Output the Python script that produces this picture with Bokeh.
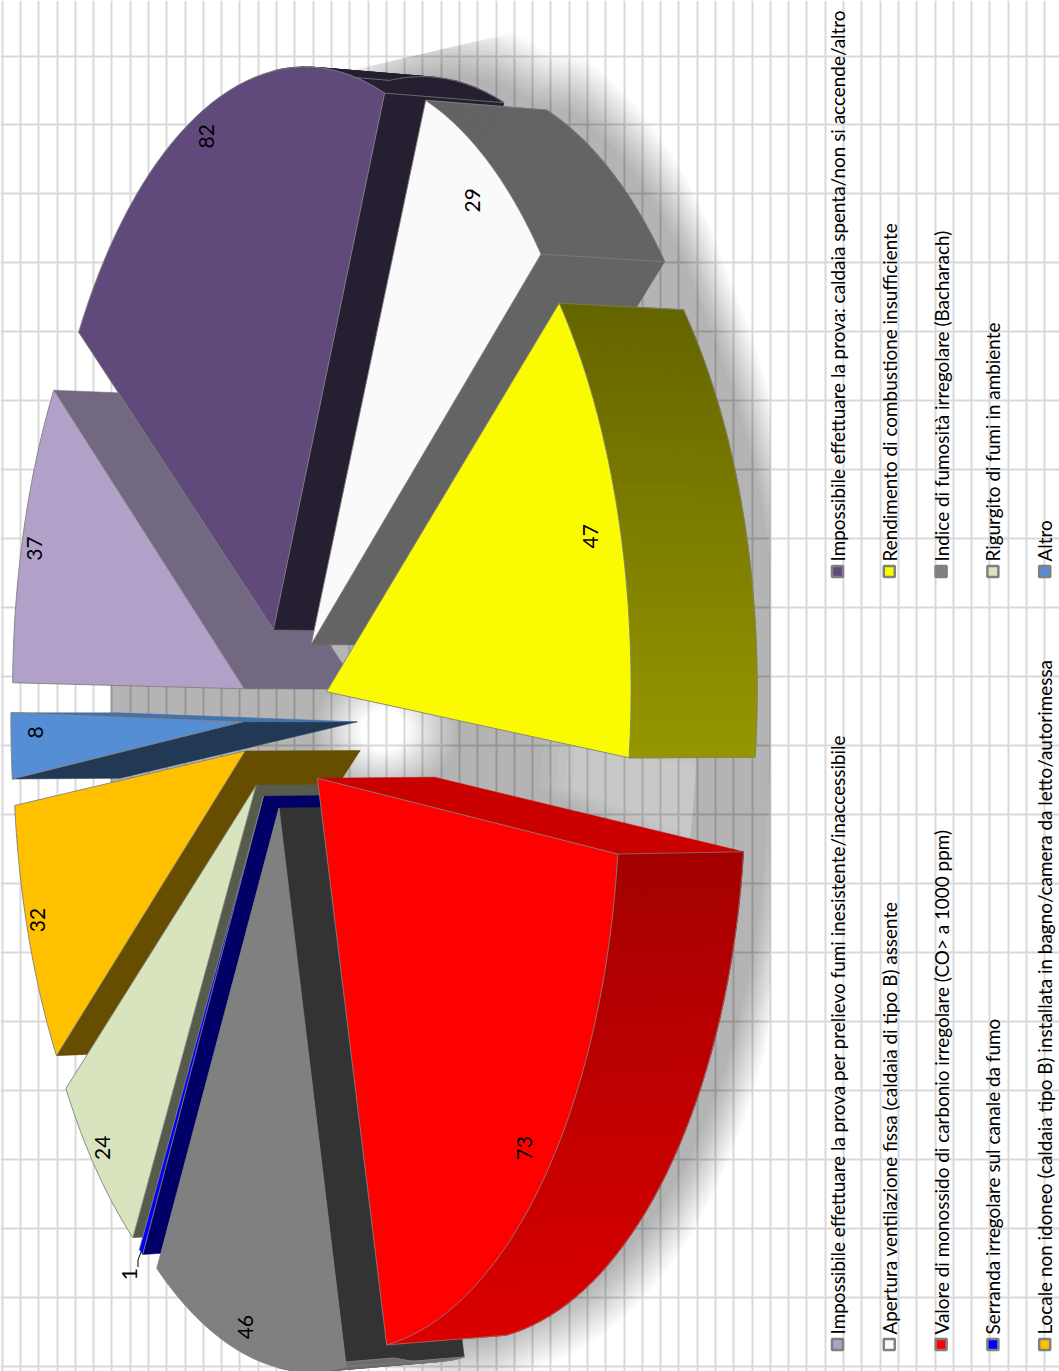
import numpy as np
from bokeh.plotting import figure
from bokeh.models import Range1d, FixedTicker
from bokeh.core.properties import value
from bokeh.embed import file_html
from bokeh.resources import INLINE

# ---- data (clockwise from the start of the pie) ----
values = [37, 82, 29, 47, 73, 46, 1, 24, 32, 8]
colors = ["#B1A0C7", "#604A7B", "#FAFAFA", "#FAFA00", "#FF0000",
          "#808080", "#0000FF", "#D7E4BD", "#FFC000", "#558ED5"]
labels = ["Impossibile effettuare la prova per prelievo fumi inesistente/inaccessibile",
          "Impossibile effettuare la prova: caldaia spenta/non si accende/altro",
          "Apertura ventilazione fissa (caldaia di tipo B) assente",
          "Rendimento di combustione insufficiente",
          "Valore di monossido di carbonio irregolare (CO> a 1000 ppm)",
          "Indice di fumosità irregolare (Bacharach)",
          "Serranda irregolare sul canale da fumo",
          "Rigurgito di fumi in ambiente",
          "Locale non idoneo (caldaia tipo B) installata in bagno/camera da letto/autorimessa",
          "Altro"]

# ---- projection of the rotated, exploded 3-D pie ----
CX, CY, A, B, K, H, M = 284.0, 717.0, 561.0, 263.7, 0.1038, 118.0, 0.015
EXPLODE, START = 0.163, 1.0


def proj(a, b, h=0.0):
    w = 1 - K * np.asarray(b, float) + M * h
    return CX + (B * np.asarray(b, float) + H * h) / w, CY + A * np.asarray(a, float) / w


def unit(t):
    r = np.radians(t)
    return -np.sin(r), -np.cos(r)


def hex2rgb(c):
    return tuple(int(c[i:i + 2], 16) for i in (1, 3, 5))


def shade(c, f):
    return "#%02x%02x%02x" % tuple(int(round(v * f)) for v in hex2rgb(c))


def wall_f(face):
    return float(np.interp(face % 360, [95, 125, 160], [0.8, 0.66, 0.4]))


spans = np.array(values) / sum(values) * 360
ends = START + np.cumsum(spans)
starts = ends - spans
mids = (starts + ends) / 2


def plane_arc(i, r=1.0, e=EXPLODE, n=40):
    th = np.linspace(starts[i], ends[i], n)
    ua, ub = unit(th)
    ma, mb = unit(mids[i])
    return e * ma + r * ua, e * mb + r * ub, th


p = figure(width=1059, height=1371, output_backend="svg", toolbar_location=None,
           x_range=Range1d(0, 1059), y_range=Range1d(1371, 0), min_border=0,
           outline_line_color=None, background_fill_color="white")
p.xaxis.visible = False
p.yaxis.visible = False
p.xgrid.ticker = FixedTicker(ticks=[20 + 18.29 * k for k in range(-1, 58)])
p.ygrid.ticker = FixedTicker(ticks=[55.5 + 68.95 * k for k in range(-1, 20)])
p.grid.grid_line_color = "#d9d9d9"
p.grid.grid_line_width = 2

# ---- soft shadow ----
NL = 16
layers = np.linspace(0, 1, NL)
for n, t in enumerate(layers):
    r = 1.07 - 0.09 * t
    oa, ob = [], []
    for i in range(len(values)):
        a, b, _ = plane_arc(i, r=r, e=EXPLODE * 0.9, n=24)
        oa.append(a)
        ob.append(b)
    oa, ob = np.concatenate(oa), np.concatenate(ob)
    ox, oy = proj(oa, ob, 1.27)
    ox = np.clip(ox, 110, 770)
    ox[(ob < -0.5) & (np.abs(oa) < 0.35)] = 110
    oy = oy - np.clip(-(oa + 0.5), 0, 1) * 40
    # the top of the shadow ends on a straight slanted edge
    oy = np.where(ox < 500, np.maximum(oy, 70 - (ox - 350) * 0.233), oy)
    th = np.linspace(0, 360, 60)
    sc = 1.5 - t
    hx, hy = proj(0.023 + 0.075 * sc * np.sin(np.radians(th)),
                  0.175 * sc * np.cos(np.radians(th)), 0.85)
    rx, ry = [list(ox), list(hx)], [list(oy), list(hy)]
    if t < 0.27:
        half = 6 - 10 * t
        wt = np.linspace(188 - half, 188 + half, 12)
        ua, ub = unit(wt)
        r_in = 0.5 + 0.4 * t
        wa = np.concatenate([r_in * ua, 0.98 * ua[::-1]])
        wb = np.concatenate([r_in * ub, 0.98 * ub[::-1]])
        wx, wy = proj(wa, wb, 1.0)
        rx.append(list(wx))
        ry.append(list(wy))
    p.multi_polygons(xs=[[rx]], ys=[[ry]], fill_color="black", fill_alpha=0.0205, line_color=None)

# ---- slices, far to near ----
order = np.argsort(-np.cos(np.radians(mids)))
EDGE = "#808080"
for i in order:
    c = colors[i]
    ma, mb = unit(mids[i])
    aa, ab = EXPLODE * ma, EXPLODE * mb
    a, b, th = plane_arc(i)
    tx, ty = proj(a, b, 0)
    bx, by = proj(a, b, 1)
    ax0, ay0 = proj(aa, ab, 0)
    ax1, ay1 = proj(aa, ab, 1)
    # radial walls that face the viewer
    for k, face in ((0, starts[i] - 90), (-1, ends[i] + 90)):
        if -np.cos(np.radians(face)) <= 0:
            continue
        wc = shade(c, wall_f(face))
        p.patch([float(ax0), float(tx[k]), float(bx[k]), float(ax1)],
                [float(ay0), float(ty[k]), float(by[k]), float(ay1)],
                fill_color=wc, line_color=wc, line_width=0.5)
    # outer rim, only where it faces the viewer, shaded along the screen
    qx, qy, qc = [], [], []
    for j in range(len(tx) - 1):
        if -np.cos(np.radians((th[j] + th[j + 1]) / 2)) <= 0:
            continue
        qx.append([tx[j], tx[j + 1], bx[j + 1], bx[j]])
        qy.append([ty[j], ty[j + 1], by[j + 1], by[j]])
        f = float(np.clip(0.4 + ((ty[j] + ty[j + 1]) / 2 - 300) * 0.2 / 457, 0.4, 0.86))
        qc.append(shade(c, f))
    if qx:
        p.patches(qx, qy, fill_color=qc, line_color=qc, line_width=1.2)
        p.line([q[3] for q in qx] + [qx[-1][2]], [q[3] for q in qy] + [qy[-1][2]],
               line_color=EDGE, line_width=0.75)
        p.line([qx[0][0], qx[0][3]], [qy[0][0], qy[0][3]], line_color=EDGE, line_width=0.75)
        p.line([qx[-1][1], qx[-1][2]], [qy[-1][1], qy[-1][2]], line_color=EDGE, line_width=0.75)
    # top face
    p.patch([float(ax0)] + list(tx), [float(ay0)] + list(ty),
            fill_color=c, line_color=EDGE, line_width=0.9)

# ---- value labels ----
nudge = {37: (-4, 7), 82: (-6, -7), 29: (-1, 2), 47: (-4, 9), 73: (2, -7),
         46: (-2, 12), 1: (-7, 6), 24: (-4, 5), 32: (-5, -3), 8: (9, -12)}
LX, LY, LT = [], [], []
for i, v in enumerate(values):
    ma, mb = unit(mids[i])
    d = 1.2 if v == 1 else 1.09
    x, y = proj(d * ma, d * mb)
    LX.append(float(x) + nudge[v][0])
    LY.append(float(y) + nudge[v][1])
    LT.append(str(v))
    if v == 1:
        x0, y0 = proj((EXPLODE + 1) * ma, (EXPLODE + 1) * mb)
        x0, y0 = float(x0), float(y0)
        p.line([x0, x0 - 3, x0 - 3], [y0, y0 + 8, y0 + 15], line_color="black", line_width=1)
p.text(LX, LY, text=LT, angle=np.pi / 2, text_align="center", text_baseline="middle",
       text_font=value("Lato"), text_font_size="21px", text_color="black")

# ---- legend ----
for i, (lab, c) in enumerate(zip(labels, colors)):
    col, row = i // 2, i % 2
    x = 837 + 51.8 * col
    my, ty = (1344, 1334) if row == 0 else (571, 561)
    p.scatter([x], [my], marker="square", size=11, fill_color=c,
              line_color="#808080", line_width=2.5)
    p.text([x], [ty], text=[lab], angle=np.pi / 2, text_align="left", text_baseline="middle",
           text_font=value("Lato"), text_font_size="18.9px", text_color="black")

open("out.html", "w").write(file_html(p, INLINE))
